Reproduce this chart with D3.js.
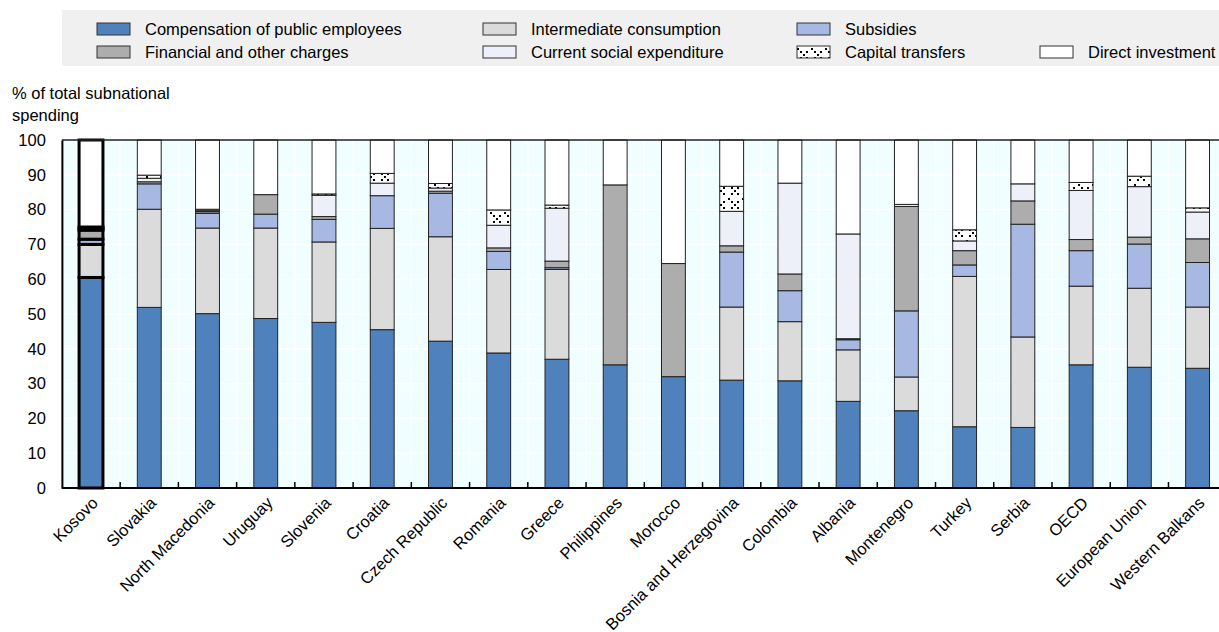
<!DOCTYPE html>
<html><head><meta charset="utf-8">
<script src="https://cdn.jsdelivr.net/npm/d3@7"></script>
<style>
body{margin:0;background:#fff;}
svg text{font-family:"Liberation Sans",Arial,sans-serif;fill:#000;}
</style></head>
<body><svg id="c" width="1219" height="632"></svg>
<script>
const categories = ["Kosovo","Slovakia","North Macedonia","Uruguay","Slovenia","Croatia","Czech Republic","Romania","Greece","Philippines","Morocco","Bosnia and Herzegovina","Colombia","Albania","Montenegro","Turkey","Serbia","OECD","European Union","Western Balkans"];
const seriesNames = ["Compensation of public employees","Intermediate consumption","Subsidies","Financial and other charges","Current social expenditure","Capital transfers","Direct investment"];
const compensation = [60.5,51.9,50.1,48.7,47.6,45.5,42.2,38.8,37.0,35.4,32.0,31.0,30.8,24.9,22.2,17.6,17.4,35.4,34.7,34.4];
const intermediate = [9.5,28.2,24.6,26.0,23.1,29.1,30.0,24.0,25.8,0,0,21.0,17.0,14.8,9.7,43.2,26.0,22.6,22.7,17.6];
const subsidies = [1.5,7.3,4.2,4.0,6.5,9.4,12.5,5.2,0.5,0,0,15.8,8.9,2.9,19.0,3.3,32.4,10.2,12.7,12.8];
const financial = [2.6,0.6,0.5,5.6,0.8,0,0.6,1.0,1.9,51.7,32.5,1.8,4.8,0.3,30.0,4.1,6.7,3.2,2.0,6.8];
const social = [0.4,1.0,0.3,0,6.1,3.6,0.9,6.5,15.2,0,0,9.9,26.1,30.1,0.6,2.8,4.9,14.1,14.5,7.7];
const capital = [0.5,0.9,0.4,0,0.4,2.8,1.3,4.4,0.9,0,0,7.2,0,0,0,3.2,0,2.3,3.0,1.2];
const direct = [25.0,10.1,19.9,15.7,15.5,9.6,12.5,20.1,18.7,12.9,35.5,13.3,12.4,27.0,18.5,25.8,12.6,12.2,10.4,19.5];
const yTicks = [0,10,20,30,40,50,60,70,80,90,100];
const yTitle = ["% of total subnational","spending"];
const highlight = "Kosovo";

const colors = ["#4F81BD","#DBDBDB","#A7B9E3","#ADADAD","#EDF0F8","url(#xpat)","#FFFFFF"];
const seriesArrays = [compensation,intermediate,subsidies,financial,social,capital,direct];
const keys = seriesNames;
const rows = categories.map((c,i)=>{const o={cat:c}; keys.forEach((k,j)=>o[k]=seriesArrays[j][i]); return o;});

const svg = d3.select("#c");
const defs = svg.append("defs");
const pat = defs.append("pattern").attr("id","xpat").attr("patternUnits","userSpaceOnUse")
  .attr("width",14).attr("height",14).attr("x",0).attr("y",2);
pat.append("rect").attr("width",14).attr("height",14).attr("fill","#fff");
[[1,1],[4,4],[7,7],[10,10],[10,4],[4,10]].forEach(p=>pat.append("rect").attr("x",p[0]-1).attr("y",p[1]-1).attr("width",2).attr("height",2).attr("fill","#000"));

const plotL = 61.9, plotT = 140, plotB = 488;
const x = d3.scaleBand().domain(categories).range([plotL, plotL + 58.24*categories.length]).padding(0);
const y = d3.scaleLinear().domain([0,100]).range([plotB, plotT]);
const barW = x.bandwidth()*0.41;

svg.append("rect").attr("x",plotL).attr("y",plotT).attr("width",1219-plotL).attr("height",plotB-plotT).attr("fill","#F0FEFF");
svg.append("g").selectAll("line").data(yTicks.slice(1,-1)).join("line")
  .attr("x1",plotL).attr("x2",1219).attr("y1",d=>y(d)).attr("y2",d=>y(d)).attr("stroke","#fff").attr("stroke-width",1.5);
const bounds = categories.slice(1).map(c=>x(c));
svg.append("g").selectAll("line").data(bounds).join("line")
  .attr("x1",d=>d).attr("x2",d=>d).attr("y1",plotT).attr("y2",plotB).attr("stroke","#fff").attr("stroke-width",1.5);

const stack = d3.stack().keys(keys)(rows);
stack.forEach((s,si)=>{
  svg.append("g").selectAll("rect").data(s.filter(d=>d[1]-d[0]>0)).join("rect")
    .attr("x",d=>x(d.data.cat)+(x.bandwidth()-barW)/2)
    .attr("width",barW)
    .attr("y",d=>y(d[1]))
    .attr("height",d=>y(d[0])-y(d[1]))
    .attr("fill",colors[si])
    .attr("stroke",d=>d.data.cat===highlight?"#000":"#222")
    .attr("stroke-width",d=>d.data.cat===highlight?3:1);
});

svg.append("line").attr("x1",plotL).attr("x2",1219).attr("y1",plotT).attr("y2",plotT).attr("stroke","#222").attr("stroke-width",1.5);
const yAxis = svg.append("g").attr("transform",`translate(${plotL},0)`)
  .call(d3.axisLeft(y).tickValues(yTicks).tickSize(0).tickPadding(16));
yAxis.select(".domain").attr("stroke","#000").attr("stroke-width",2);
yAxis.selectAll("text").style("font-size","16.5px");
const xAxis = svg.append("g").attr("transform",`translate(0,${plotB})`)
  .call(d3.axisBottom(x).tickSize(0).tickFormat(""));
xAxis.select(".domain").attr("stroke","#000").attr("stroke-width",2).attr("d",`M${plotL},0H1219`);
svg.append("g").selectAll("line").data(bounds).join("line")
  .attr("x1",d=>d).attr("x2",d=>d).attr("y1",plotB).attr("y2",plotB-6).attr("stroke","#000").attr("stroke-width",1.5);
svg.append("g").selectAll("text").data(categories).join("text")
  .attr("transform",d=>`translate(${x(d)+x.bandwidth()/2+8},${plotB+16}) rotate(-45)`)
  .attr("text-anchor","end").style("font-size","16.5px").text(d=>d);

svg.append("text").attr("x",12).attr("y",99).style("font-size","16.5px").text(yTitle[0]);
svg.append("text").attr("x",12).attr("y",121).style("font-size","16.5px").text(yTitle[1]);

svg.append("rect").attr("x",62).attr("y",10).attr("width",1219-62).attr("height",56).attr("fill","#F0F0F0");
const legPos = [[97,0],[483,0],[797,0],[97,1],[483,1],[797,1],[1040,1]];
const lg = svg.append("g").selectAll("g").data(keys).join("g")
  .attr("transform",(d,i)=>`translate(${legPos[i][0]},${legPos[i][1]?46:23})`);
lg.append("rect").attr("width",33).attr("height",12).attr("fill",(d,i)=>colors[i]).attr("stroke","#333").attr("stroke-width",1);
lg.append("text").attr("x",48).attr("y",12).style("font-size","16.5px").text(d=>d);
</script></body></html>
